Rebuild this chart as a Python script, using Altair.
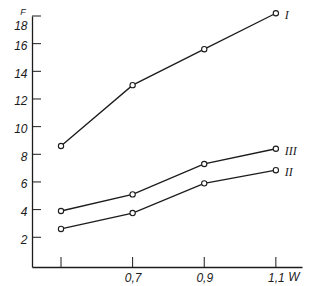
import altair as alt
import pandas as pd

# ---- data ----
w_vals = [0.5, 0.7, 0.9, 1.1]
f_I = [8.6, 13.0, 15.6, 18.2]
f_II = [2.6, 3.75, 5.9, 6.85]
f_III = [3.9, 5.1, 7.3, 8.4]
series_names = ["I", "II", "III"]
x_ticks = [0.5, 0.7, 0.9, 1.1]
y_ticks = [2, 4, 6, 8, 10, 12, 14, 16, 18]

rows = []
for name, vals in zip(series_names, [f_I, f_II, f_III]):
    for w, f in zip(w_vals, vals):
        rows.append({"series": name, "W": w, "F": f})
df = pd.DataFrame(rows)
last = df[df["W"] == w_vals[-1]]

W, H = 270, 251
INK = "#1c1c1c"
xscale = alt.Scale(domain=[0.419, 1.173], nice=False, zero=False)
yscale = alt.Scale(domain=[-0.15, 18], nice=False, zero=False)

xaxis = alt.Axis(
    values=x_ticks, tickSize=0, grid=False, title=None, labelOverlap=False,
    labelExpr="datum.value < 0.6 ? '' : replace(format(datum.value, '.1f'), '.', ',')",
    labelFont="Liberation Sans", labelFontStyle="italic", labelFontSize=12,
    labelColor=INK, labelPadding=5, domainColor=INK, domainWidth=1.3,
)
yaxis = alt.Axis(
    values=y_ticks, tickSize=0, grid=False, title=None, labelOverlap=False,
    labelFont="Liberation Sans", labelFontStyle="italic", labelFontSize=12,
    labelColor=INK, labelPadding=5,
    labelOffset={"condition": {"test": "datum.value >= 18", "value": 4}, "value": 2},
    labelBaseline={"condition": {"test": "datum.value >= 18", "value": "top"}, "value": "middle"},
    domainColor=INK, domainWidth=1.3,
)

X = lambda f: alt.X(f, scale=xscale, axis=xaxis)
Y = lambda f: alt.Y(f, scale=yscale, axis=yaxis)

base = alt.Chart(df)
lines = base.mark_line(color=INK, strokeWidth=1.3).encode(
    x=X("W:Q"), y=Y("F:Q"), detail="series:N",
)
points = base.mark_point(shape="circle", size=28, fill="white", fillOpacity=1,
                         stroke=INK, strokeWidth=1.1, opacity=1).encode(
    x=X("W:Q"), y=Y("F:Q"),
)
labels = alt.Chart(last).mark_text(align="left", baseline="middle", dx=9, dy=2,
                                   font="Liberation Serif", fontStyle="italic",
                                   fontSize=12, color=INK).encode(
    x=X("W:Q"), y=Y("F:Q"), text="series:N",
)

ytick_df = pd.DataFrame({"F": y_ticks})
xtick_df = pd.DataFrame({"W": x_ticks})
yticks = alt.Chart(ytick_df).mark_rule(color=INK, strokeWidth=1).encode(
    y=Y("F:Q"), x=alt.value(0), x2=alt.value(9)
)
xticks = alt.Chart(xtick_df).mark_rule(color=INK, strokeWidth=1).encode(
    x=X("W:Q"), y=alt.value(H - 10), y2=alt.value(H)
)

ftitle = alt.Chart(pd.DataFrame({"t": ["F"]})).mark_text(
    font="Liberation Sans", fontStyle="italic", fontSize=9, color=INK,
    align="center", baseline="top"
).encode(text="t:N", x=alt.value(-9), y=alt.value(-8))
wtitle = alt.Chart(pd.DataFrame({"t": ["W"]})).mark_text(
    font="Liberation Sans", fontStyle="italic", fontSize=12, color=INK,
    align="center", baseline="top"
).encode(text="t:N", x=alt.value(262), y=alt.value(H + 5))

chart = alt.layer(lines, points, yticks, xticks, labels, ftitle, wtitle).properties(
    width=W, height=H,
    background="white",
    autosize=alt.AutoSizeParams(type="none"),
    padding={"left": 24, "top": 8, "right": 26, "bottom": 17},
).configure_view(stroke=None).configure_axis(labelOverlap=False)

chart.save("out.html", embed_options={"renderer": "svg", "actions": False})
